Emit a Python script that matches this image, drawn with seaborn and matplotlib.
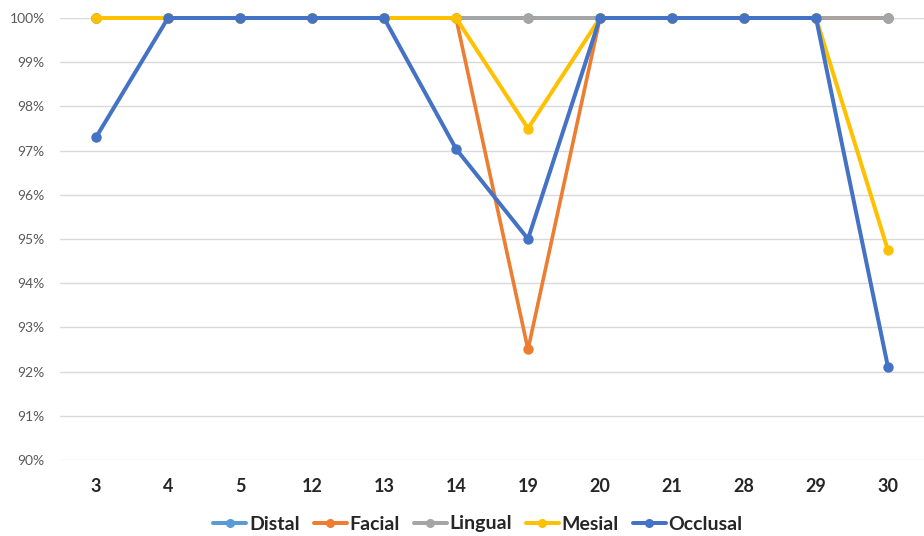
import matplotlib
matplotlib.use("Agg")
import matplotlib.pyplot as plt
from matplotlib.ticker import FuncFormatter
from matplotlib.lines import Line2D
import seaborn as sns
import pandas as pd

teeth = ["3", "4", "5", "12", "13", "14", "19", "20", "21", "28", "29", "30"]
distal = [100, 100, 100, 100, 100, 100, 100, 100, 100, 100, 100, 100]
facial = [100, 100, 100, 100, 100, 100, 92.5, 100, 100, 100, 100, 100]
lingual = [100, 100, 100, 100, 100, 100, 100, 100, 100, 100, 100, 100]
mesial = [100, 100, 100, 100, 100, 100, 97.5, 100, 100, 100, 100, 94.74]
occlusal = [97.3, 100, 100, 100, 100, 97.04, 95.0, 100, 100, 100, 100, 92.1]

series_names = ["Distal", "Facial", "Lingual", "Mesial", "Occlusal"]
series_values = [distal, facial, lingual, mesial, occlusal]
colors = ["#5B9BD5", "#ED7D31", "#A5A5A5", "#FFC000", "#4472C4"]
# 2.88 pt = 4 px at 100 dpi; lower layers are slightly thinner so their
# anti-aliased edges stay hidden beneath the lines stacked over them
widths = [2.6, 2.6, 2.7, 2.88, 2.88]

sns.set_theme(style="white")
plt.rcParams["font.family"] = ["Lato", "DejaVu Sans"]

fig = plt.figure(figsize=(9.24, 5.36), dpi=100)
ax = fig.add_axes([60 / 924, 1 - 460 / 536, 864 / 924, 442 / 536])

positions = list(range(len(teeth)))
# one call per surface so that later series are stacked on top
for i, (name, vals, col, lw) in enumerate(zip(series_names, series_values, colors, widths)):
    sub = pd.DataFrame({"pos": positions, "Pct": vals})
    sns.lineplot(
        data=sub, x="pos", y="Pct", color=col, marker="o", markersize=7.5,
        markeredgewidth=0, linewidth=lw, sort=False, ax=ax, legend=False,
        clip_on=False, zorder=3 + i, snap=False,
    )

ax.set_xlim(-0.5, len(teeth) - 0.5)
ax.set_xticks(positions)
ax.set_xticklabels(teeth)
ax.set_ylim(90, 100)
ax.set_yticks(range(90, 101))
ax.yaxis.set_major_formatter(FuncFormatter(lambda v, p: f"{v:.0f}%"))
ax.grid(axis="y", color="#D9D9D9", linewidth=1)
ax.set_axisbelow(True)
for s in ax.spines.values():
    s.set_visible(False)
ax.set_xlabel("")
ax.set_ylabel("")
ax.tick_params(axis="y", length=0, pad=11, labelsize=10, labelcolor="#595959")
ax.tick_params(axis="x", length=0, pad=13, labelsize=13, labelcolor="#262626")
for lbl in ax.get_xticklabels():
    lbl.set_fontweight("bold")

handles = [Line2D([0], [0], color=c, lw=2.88, marker="o", markersize=6.5, markeredgewidth=0)
           for c in colors]
fig.legend(handles, series_names, loc="center", bbox_to_anchor=(478 / 924, 1 - 524 / 536),
           ncol=5, frameon=False, handlelength=1.7, columnspacing=0.7, handletextpad=0.15,
           prop={"weight": "bold", "size": 14})

fig.savefig("out.png", dpi=100)
